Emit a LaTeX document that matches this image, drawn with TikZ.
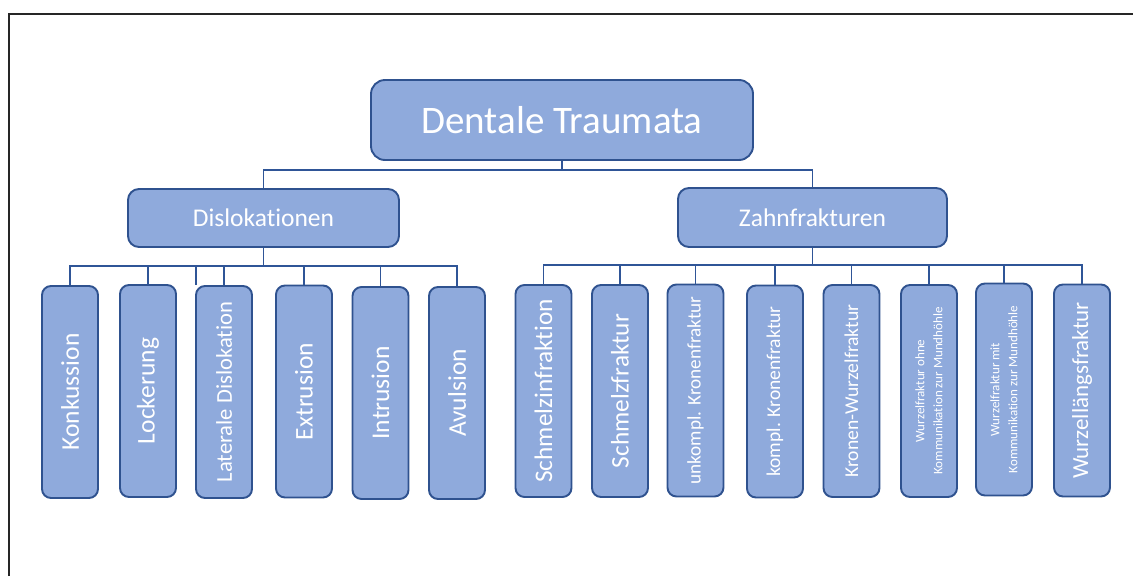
\documentclass[tikz,border=0pt]{standalone}
\usepackage{fontspec}
\setmainfont{Carlito}[Ligatures=NoCommon]
\definecolor{boxfill}{HTML}{8FAADC}
\definecolor{boxline}{HTML}{2F528F}
\definecolor{connline}{HTML}{2F5597}
\definecolor{framecol}{HTML}{262626}
\newcommand{\fsz}[1]{\fontsize{#1}{#1}\selectfont}
\begin{document}
\begin{tikzpicture}[x=1pt,y=-1pt,
  box/.style={draw=boxline, fill=boxfill, line width=1.9pt, rounded corners=9pt, text=white, inner sep=0pt, align=center},
  vbox/.style={box, rotate=90, minimum width=212pt, minimum height=56pt},
  conn/.style={draw=connline, line width=1.9pt}]
\useasboundingbox (0,0) rectangle (1133,576);
\draw[framecol, line width=1.4pt] (9,576) -- (9,14) -- (1133,14);

\node[box, minimum width=382pt, minimum height=80pt, rounded corners=14pt, font=\fsz{39}] (top) at (562,120) {Dentale Traumata};
\node[box, minimum width=271pt, minimum height=58pt, rounded corners=11pt, font=\fsz{25.5}] (dis) at (263.5,218) {Dislokationen};
\node[box, minimum width=269pt, minimum height=59pt, rounded corners=11pt, font=\fsz{25.5}] (zahn) at (812.5,217.5) {Zahnfrakturen};

% left children
\node[vbox, font=\fsz{25.5}] (k1) at (70,392) {Konkussion};
\node[vbox, font=\fsz{25.5}] (k2) at (148,391) {Lockerung};
\node[vbox, font=\fsz{22.6}] (k3) at (224,392) {Laterale Dislokation};
\node[vbox, font=\fsz{25.5}] (k4) at (304,391.5) {Extrusion};
\node[vbox, font=\fsz{25.5}] (k5) at (380.5,393) {Intrusion};
\node[vbox, font=\fsz{25.5}] (k6) at (457,393) {Avulsion};

% right children
\node[vbox, font=\fsz{25.3}] (z1) at (543.5,391) {Schmelzinfraktion};
\node[vbox, font=\fsz{25.3}] (z2) at (620,391) {Schmelzfraktur};
\node[vbox, font=\fsz{19.2}] (z3) at (695.5,390.5) {unkompl. Kronenfraktur};
\node[vbox, font=\fsz{19.5}] (z4) at (775,391.5) {kompl. Kronenfraktur};
\node[vbox, font=\fsz{19.6}] (z5) at (851.5,391) {Kronen-Wurzelfraktur};
\node[vbox, font=\fsz{13}, align=center] (z6) at (929,391) {Wurzelfraktur ohne\\[5pt]Kommunikation zur Mundhöhle};
\node[vbox, font=\fsz{13}, align=center] (z7) at (1004,389.5) {Wurzelfraktur mit\\[5pt]Kommunikation zur Mundhöhle};
\node[vbox, font=\fsz{23}] (z8) at (1082,390.5) {Wurzellängsfraktur};

% connectors
\coordinate (b0) at (562,170);
\coordinate (b1) at (263.5,266);
\coordinate (b2) at (812.5,265);
\coordinate (s1) at (196,266);
\coordinate (s2) at (196,285);
\draw[conn] (top.south) -- (b0);
\draw[conn] (dis.north) |- (b0) -| (zahn.north);
\draw[conn] (dis.south) -- (b1);
\draw[conn] (zahn.south) -- (b2);
\foreach \c in {k1,k2,k3,k4,k5,k6} \draw[conn] (b1) -| (\c.east);
\foreach \c in {z1,z2,z3,z4,z5,z6,z7,z8} \draw[conn] (b2) -| (\c.east);
\draw[conn] (s1) -- (s2);
\end{tikzpicture}
\end{document}
